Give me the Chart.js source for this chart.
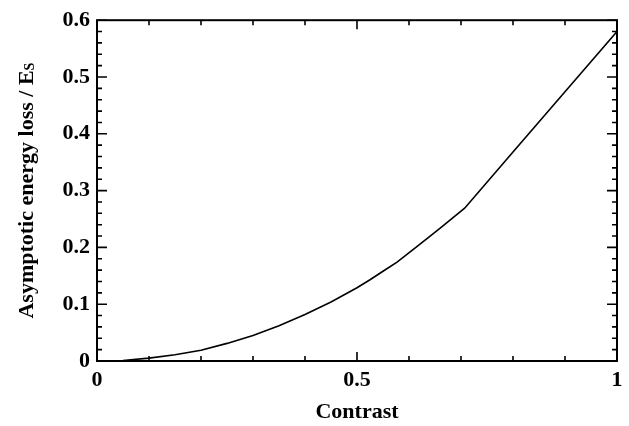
<!DOCTYPE html>
<html>
<head>
<meta charset="utf-8">
<script src="https://cdn.jsdelivr.net/npm/chart.js@4.4.1/dist/chart.umd.min.js"></script>
<style>
  html, body { margin: 0; padding: 0; background: #fff; }
  #wrap { width: 629px; height: 426px; }
</style>
</head>
<body>
<div id="wrap"><canvas id="lossChart" width="629" height="426"></canvas></div>
<script>
// values
const contrast = [0, 0.05, 0.1, 0.15, 0.2, 0.25, 0.3, 0.35, 0.4, 0.45, 0.5, 0.525, 0.55, 0.577, 0.62, 0.66, 0.707, 0.8, 0.9, 1.0];
const energyLoss = [0, 0.001, 0.005, 0.011, 0.019, 0.031, 0.045, 0.062, 0.082, 0.104, 0.129, 0.143, 0.158, 0.174, 0.205, 0.234, 0.269, 0.368, 0.474, 0.580];

const xTicks = [0, 0.5, 1];
const xMinorTicks = [0.1, 0.2, 0.3, 0.4, 0.6, 0.7, 0.8, 0.9];
const yTicks = [0, 0.1, 0.2, 0.3, 0.4, 0.5, 0.6];
const yMinorTicks = [0.02, 0.04, 0.06, 0.08, 0.12, 0.14, 0.16, 0.18, 0.22, 0.24, 0.26, 0.28,
                     0.32, 0.34, 0.36, 0.38, 0.42, 0.44, 0.46, 0.48, 0.52, 0.54, 0.56, 0.58];

const serif = '"Liberation Serif", "Times New Roman", serif';

// box around the plot + inward tick marks on all four sides
const frameTicks = {
  id: 'frameTicks',
  afterDatasetsDraw(chart) {
    const {ctx, chartArea: a, scales: {x, y}} = chart;
    ctx.save();
    ctx.strokeStyle = '#000';
    ctx.lineWidth = 2;
    ctx.strokeRect(a.left, a.top, a.right - a.left, a.bottom - a.top);

    ctx.lineWidth = 1.6;
    ctx.beginPath();
    const tickX = (v, len) => {
      const px = x.getPixelForValue(v);
      ctx.moveTo(px, a.bottom); ctx.lineTo(px, a.bottom - len);
      ctx.moveTo(px, a.top); ctx.lineTo(px, a.top + len);
    };
    const tickY = (v, len) => {
      const py = y.getPixelForValue(v);
      ctx.moveTo(a.left, py); ctx.lineTo(a.left + len, py);
      ctx.moveTo(a.right, py); ctx.lineTo(a.right - len, py);
    };
    xTicks.forEach(v => tickX(v, 9));
    xMinorTicks.forEach(v => tickX(v, 5));
    yTicks.forEach(v => tickY(v, 10));
    yMinorTicks.forEach(v => tickY(v, 5));
    ctx.stroke();

    // y axis title with subscript S
    const main = 'Asymptotic energy loss / E';
    const sub = 'S';
    ctx.fillStyle = '#000';
    ctx.font = 'bold 22px ' + serif;
    const wMain = ctx.measureText(main).width;
    ctx.font = 'bold 14px ' + serif;
    const wSub = ctx.measureText(sub).width;
    const total = wMain + wSub;
    ctx.translate(27, (a.top + a.bottom) / 2);
    ctx.rotate(-Math.PI / 2);
    ctx.textBaseline = 'middle';
    ctx.textAlign = 'left';
    ctx.font = 'bold 22px ' + serif;
    ctx.fillText(main, -total / 2, 0);
    ctx.font = 'bold 14px ' + serif;
    ctx.fillText(sub, -total / 2 + wMain, 3);
    ctx.restore();
  }
};

new Chart(document.getElementById('lossChart'), {
  type: 'line',
  data: {
    datasets: [{
      data: contrast.map((c, i) => ({x: c, y: energyLoss[i]})),
      borderColor: '#000',
      borderWidth: 1.6,
      pointRadius: 0,
      tension: 0,
      fill: false
    }]
  },
  options: {
    responsive: false,
    animation: false,
    events: [],
    layout: { padding: { left: 0, right: 12, top: 16, bottom: 0 } },
    plugins: { legend: { display: false }, tooltip: { enabled: false } },
    scales: {
      x: {
        type: 'linear',
        min: 0,
        max: 1,
        afterBuildTicks: s => { s.ticks = xTicks.map(v => ({value: v})); },
        afterFit: s => { s.height = 65; },
        grid: { display: false, drawTicks: false },
        border: { display: false },
        ticks: {
          color: '#000',
          padding: 6,
          maxRotation: 0,
          font: { family: serif, size: 22, weight: 'bold' },
          callback: v => String(v)
        },
        title: {
          display: true,
          text: 'Contrast',
          color: '#000',
          padding: { top: 0, bottom: 3 },
          font: { family: serif, size: 22, weight: 'bold', lineHeight: 1 }
        }
      },
      y: {
        type: 'linear',
        min: 0,
        max: 0.6,
        afterBuildTicks: s => { s.ticks = yTicks.map(v => ({value: v})); },
        afterFit: s => { s.width = 97; },
        grid: { display: false, drawTicks: false },
        border: { display: false },
        ticks: {
          color: '#000',
          padding: 7,
          font: { family: serif, size: 22, weight: 'bold' },
          callback: v => String(v)
        }
      }
    }
  },
  plugins: [frameTicks]
});
</script>
</body>
</html>
